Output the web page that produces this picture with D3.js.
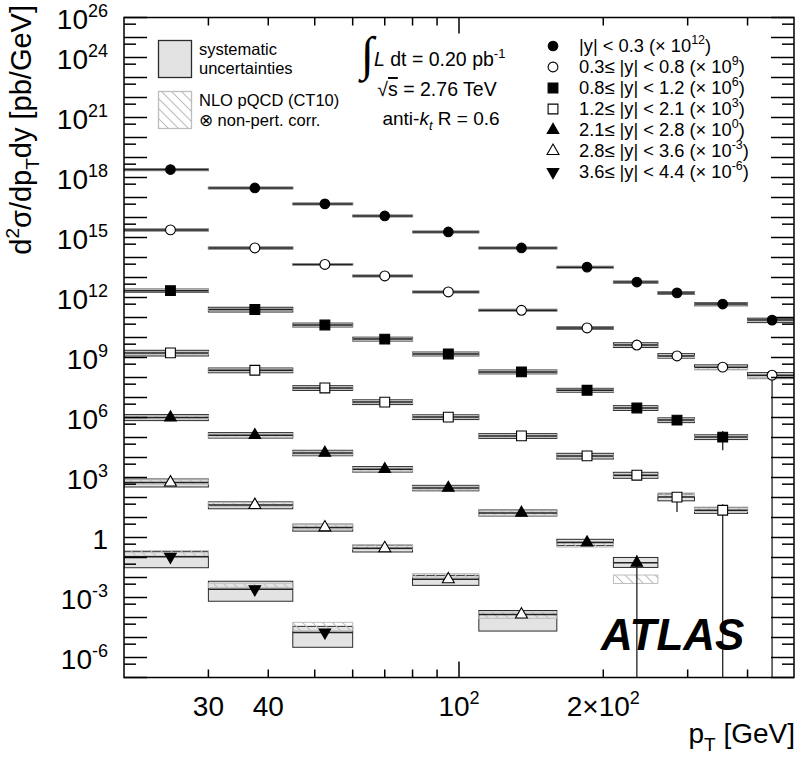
<!DOCTYPE html>
<html><head><meta charset="utf-8">
<script src="https://cdn.jsdelivr.net/npm/d3@7"></script>
<style>
body{margin:0;background:#fff}
text{font-family:"Liberation Sans",Arial,Helvetica,sans-serif;fill:#000}
</style>
</head><body>
<svg id="c" width="797" height="757"></svg>
<script>
// ---------------- DATA ----------------
const binEdges = [20, 30, 45, 60, 80, 110, 160, 210, 260, 310, 400, 500];
const rapidityLabels = ["|y| < 0.3", "0.3\u2264 |y| < 0.8", "0.8\u2264 |y| < 1.2", "1.2\u2264 |y| < 2.1",
                        "2.1\u2264 |y| < 2.8", "2.8\u2264 |y| < 3.6", "3.6\u2264 |y| < 4.4"];
const scaleExponents = ["12", "9", "6", "3", "0", "-3", "-6"];
const xTickValues = [30, 40, 100, 200];
const xTickBase = ["30", "40", "10", "2\u00d710"];
const xTickSup = ["", "", "2", "2"];
const yTickExponents = [26, 24, 21, 18, 15, 12, 9, 6, 3, 0, -3, -6];

// cross sections (already multiplied by the scale factors), pb/GeV
const xsec_y0 = [2.5e18, 3.0e17, 4.8e16, 1.2e16, 1.9e15, 3.0e14, 3.3e13, 5.9e12, 1.7e12, 4.7e11, 7.4e10];
const xsec_y1 = [2.4e15, 3.0e14, 4.5e13, 1.2e13, 1.9e12, 2.3e11, 3.0e10, 4.2e9, 1.2e9, 3.3e8, 1.3e8];
const xsec_y2 = [2.2e12, 2.5e11, 4.2e10, 8.3e9, 1.5e9, 1.9e8, 2.3e7, 3.0e6, 7.4e5, 1.05e5];
const xsec_y3 = [1.7e9, 2.3e8, 3.0e7, 5.9e6, 1.05e6, 1.2e5, 1.2e4, 1.3e3, 105, 23];
const xsec_y4 = [1.0e6, 1.3e5, 1.7e4, 2.6e3, 300, 17, 0.56, 0.054];
const xsec_y5 = [560, 42, 3.2, 0.29, 8.1e-3, 1.4e-4];
const xsec_y6 = [0.11, 2.6e-3, 1.8e-5];

// systematic uncertainties (relative, up / down)
const sysUp_y0 = [0.12, 0.1, 0.1, 0.1, 0.1, 0.1, 0.1, 0.12, 0.14, 0.18, 0.25];
const sysDn_y0 = [0.12, 0.1, 0.1, 0.1, 0.1, 0.1, 0.1, 0.12, 0.14, 0.18, 0.25];
const sysUp_y1 = [0.12, 0.12, 0.1, 0.1, 0.1, 0.12, 0.15, 0.3, 0.3, 0.3, 0.35];
const sysDn_y1 = [0.12, 0.12, 0.1, 0.1, 0.1, 0.12, 0.15, 0.25, 0.25, 0.25, 0.3];
const sysUp_y2 = [0.2, 0.3, 0.25, 0.25, 0.25, 0.25, 0.25, 0.3, 0.3, 0.3];
const sysDn_y2 = [0.18, 0.25, 0.2, 0.2, 0.2, 0.2, 0.2, 0.25, 0.25, 0.25];
const sysUp_y3 = [0.35, 0.3, 0.3, 0.3, 0.3, 0.3, 0.35, 0.4, 0.45, 0.4];
const sysDn_y3 = [0.3, 0.25, 0.25, 0.25, 0.25, 0.25, 0.3, 0.3, 0.35, 0.3];
const sysUp_y4 = [0.4, 0.35, 0.35, 0.35, 0.35, 0.4, 0.45, 0.86];
const sysDn_y4 = [0.3, 0.28, 0.28, 0.28, 0.28, 0.3, 0.3, 0.41];
const sysUp_y5 = [0.5, 0.45, 0.45, 0.45, 0.58, 0.6];
const sysDn_y5 = [0.4, 0.35, 0.35, 0.35, 0.5, 0.85];
const sysUp_y6 = [0.78, 1.5, 1.0];
const sysDn_y6 = [0.72, 0.75, 0.82];

// NLO pQCD x non-pert. corr. : ratio to data and relative band half-width
const nlo_y0 = [1.02, 1, 1, 1, 1, 1, 1, 1, 1, 1, 0.95];
const nloUnc_y0 = [0.08, 0.08, 0.08, 0.08, 0.08, 0.08, 0.08, 0.08, 0.08, 0.1, 0.1];
const nlo_y1 = [1, 1, 1, 1, 1, 1, 1, 0.95, 0.9, 0.85, 0.75];
const nloUnc_y1 = [0.1, 0.1, 0.1, 0.1, 0.1, 0.1, 0.1, 0.1, 0.12, 0.12, 0.12];
const nlo_y2 = [1, 1, 1, 1, 1, 1, 1, 1, 1, 1];
const nloUnc_y2 = [0.12, 0.12, 0.12, 0.12, 0.12, 0.12, 0.12, 0.12, 0.12, 0.12];
const nlo_y3 = [1, 1, 1, 1, 1, 1, 1, 1, 1.35, 1.1];
const nloUnc_y3 = [0.15, 0.15, 0.15, 0.15, 0.15, 0.15, 0.15, 0.15, 0.2, 0.2];
const nlo_y4 = [1.05, 1, 1, 1, 1, 1, 0.85, 0.17];
const nloUnc_y4 = [0.2, 0.2, 0.2, 0.2, 0.2, 0.25, 0.3, 0.45];
const nlo_y5 = [1.1, 1.1, 1.1, 1.2, 1.6, 1.0];
const nloUnc_y5 = [0.25, 0.25, 0.25, 0.25, 0.2, 0.35];
const nlo_y6 = [1.55, 1.6, 2.2];
const nloUnc_y6 = [0.3, 0.25, 0.45];

// statistical errors that stick out of the markers (series index, bin index, rel. up, rel. down)
const statSeries = [1, 2, 3, 3, 4];
const statBin = [10, 9, 8, 9, 7];
const statUp = [0.3, 1.0, 0.5, 1.0, 1.4];
const statDn = [1.0, 0.78, 0.82, 1.0, 1.0];

// ---------------- DRAWING ----------------
const series = [
  {v: xsec_y0, up: sysUp_y0, dn: sysDn_y0, nlo: nlo_y0, nu: nloUnc_y0},
  {v: xsec_y1, up: sysUp_y1, dn: sysDn_y1, nlo: nlo_y1, nu: nloUnc_y1},
  {v: xsec_y2, up: sysUp_y2, dn: sysDn_y2, nlo: nlo_y2, nu: nloUnc_y2},
  {v: xsec_y3, up: sysUp_y3, dn: sysDn_y3, nlo: nlo_y3, nu: nloUnc_y3},
  {v: xsec_y4, up: sysUp_y4, dn: sysDn_y4, nlo: nlo_y4, nu: nloUnc_y4},
  {v: xsec_y5, up: sysUp_y5, dn: sysDn_y5, nlo: nlo_y5, nu: nloUnc_y5},
  {v: xsec_y6, up: sysUp_y6, dn: sysDn_y6, nlo: nlo_y6, nu: nloUnc_y6}
];
const markerStyle = [
  {type: d3.symbolCircle, size: 72, fill: "#000", rot: 0},
  {type: d3.symbolCircle, size: 76, fill: "#fff", rot: 0},
  {type: d3.symbolSquare, size: 96, fill: "#000", rot: 0},
  {type: d3.symbolSquare, size: 96, fill: "#fff", rot: 0},
  {type: d3.symbolTriangle, size: 58, fill: "#000", rot: 0},
  {type: d3.symbolTriangle, size: 62, fill: "#fff", rot: 0},
  {type: d3.symbolTriangle, size: 58, fill: "#000", rot: 180}
];

const L = 124, R = 794, T = 17.5, B = 677.5;
const x = d3.scaleLog().domain([binEdges[0], binEdges[binEdges.length - 1]]).range([L, R]);
const y = d3.scaleLog().domain([1e-7, 1e26]).range([B, T]);
const svg = d3.select("#c");

const defs = svg.append("defs");
const pat = defs.append("pattern").attr("id", "hatch").attr("patternUnits", "userSpaceOnUse")
  .attr("width", 10).attr("height", 10);
pat.append("path").attr("d", "M-1,-1 L11,11 M-6,4 L6,16 M4,-6 L16,6")
  .attr("stroke", "#bdbdbd").attr("stroke-width", 1.1);
defs.append("clipPath").attr("id", "frame").append("rect")
  .attr("x", L).attr("y", T).attr("width", R - L).attr("height", B - T);

const yc = v => (v <= 0 ? B + 5 : y(v));
const plot = svg.append("g").attr("clip-path", "url(#frame)");

series.forEach((s, k) => {
  s.v.forEach((v, i) => {
    const lo = binEdges[i], hi = binEdges[i + 1];
    plot.append("rect")
      .attr("x", x(lo)).attr("width", x(hi) - x(lo))
      .attr("y", yc(v * (1 + s.up[i]))).attr("height", yc(v * (1 - s.dn[i])) - yc(v * (1 + s.up[i])))
      .attr("fill", "#e3e3e3").attr("stroke", "#2b2b2b").attr("stroke-width", 1);
  });
});
series.forEach((s, k) => {
  s.v.forEach((v, i) => {
    const lo = binEdges[i], hi = binEdges[i + 1];
    const t = v * s.nlo[i];
    plot.append("rect")
      .attr("x", x(lo)).attr("width", x(hi) - x(lo))
      .attr("y", yc(t * (1 + s.nu[i]))).attr("height", yc(t * (1 - s.nu[i])) - yc(t * (1 + s.nu[i])))
      .attr("fill", "url(#hatch)").attr("stroke", "#bdbdbd").attr("stroke-width", 1);
  });
});
statSeries.forEach((k, j) => {
  const i = statBin[j], v = series[k].v[i];
  const xc = x((binEdges[i] + binEdges[i + 1]) / 2);
  plot.append("line").attr("x1", xc).attr("x2", xc)
    .attr("y1", yc(v * (1 + statUp[j]))).attr("y2", yc(v * (1 - statDn[j])))
    .attr("stroke", "#222").attr("stroke-width", 1.3);
});
series.forEach((s, k) => {
  s.v.forEach((v, i) => {
    const lo = binEdges[i], hi = binEdges[i + 1];
    plot.append("line").attr("x1", x(lo)).attr("x2", x(hi)).attr("y1", y(v)).attr("y2", y(v))
      .attr("stroke", "#222").attr("stroke-width", 1.5);
  });
});
series.forEach((s, k) => {
  const m = markerStyle[k];
  s.v.forEach((v, i) => {
    const xc = x((binEdges[i] + binEdges[i + 1]) / 2);
    plot.append("path").attr("d", d3.symbol().type(m.type).size(m.size)())
      .attr("transform", `translate(${xc},${y(v)}) rotate(${m.rot})`)
      .attr("fill", m.fill).attr("stroke", "#000").attr("stroke-width", 1.1);
  });
});

// frame and ticks
const ax = svg.append("g").attr("stroke", "#000").attr("stroke-width", 1.5);
ax.append("rect").attr("x", L).attr("y", T).attr("width", R - L).attr("height", B - T).attr("fill", "none");
const xMinor = [30, 40, 50, 60, 70, 80, 90, 200, 300, 400];
xMinor.concat([100]).forEach(v => {
  const len = v === 100 ? 16 : 8;
  ax.append("line").attr("x1", x(v)).attr("x2", x(v)).attr("y1", B).attr("y2", B - len);
  ax.append("line").attr("x1", x(v)).attr("x2", x(v)).attr("y1", T).attr("y2", T + len);
});
for (let n = -7; n <= 26; n++) {
  const yy = y(Math.pow(10, n));
  ax.append("line").attr("x1", L).attr("x2", L + 23).attr("y1", yy).attr("y2", yy);
  ax.append("line").attr("x1", R).attr("x2", R - 23).attr("y1", yy).attr("y2", yy);
  if (n > -7) {
    const ys = y(Math.pow(10, n - 1 / 3));
    ax.append("line").attr("x1", L).attr("x2", L + 12).attr("y1", ys).attr("y2", ys);
    ax.append("line").attr("x1", R).attr("x2", R - 12).attr("y1", ys).attr("y2", ys);
  }
}

// y tick labels
yTickExponents.forEach(n => {
  const t = svg.append("text").attr("x", 108).attr("y", y(Math.pow(10, n)) + 11)
    .attr("text-anchor", "end").attr("font-size", 28);
  if (n === 0) { t.text("1"); return; }
  t.append("tspan").text("10");
  t.append("tspan").attr("dy", -12).attr("font-size", 18).text(String(n));
});
// x tick labels
xTickValues.forEach((v, i) => {
  const t = svg.append("text").attr("x", x(v)).attr("y", 716).attr("text-anchor", "middle").attr("font-size", 28);
  t.append("tspan").text(xTickBase[i]);
  if (xTickSup[i]) t.append("tspan").attr("dy", -12).attr("font-size", 18).text(xTickSup[i]);
});
// axis titles
const xt = svg.append("text").attr("x", 795).attr("y", 743).attr("text-anchor", "end").attr("font-size", 28);
xt.append("tspan").text("p");
xt.append("tspan").attr("dy", 8).attr("font-size", 19).text("T");
xt.append("tspan").attr("dy", -8).text(" [GeV]");

const yt = svg.append("text").attr("transform", "translate(31,5) rotate(-90)")
  .attr("text-anchor", "end").attr("font-size", 29);
yt.append("tspan").text("d");
yt.append("tspan").attr("dy", -12).attr("font-size", 19).text("2");
yt.append("tspan").attr("dy", 12).text("\u03c3/dp");
yt.append("tspan").attr("dy", 8).attr("font-size", 19).text("T");
yt.append("tspan").attr("dy", -8).text("dy [pb/GeV]");

// legend: left
svg.append("rect").attr("x", 158.5).attr("y", 40.5).attr("width", 33).attr("height", 37)
  .attr("fill", "#e3e3e3").attr("stroke", "#2b2b2b").attr("stroke-width", 1.3);
svg.append("rect").attr("x", 158.5).attr("y", 91.5).attr("width", 33).attr("height", 37)
  .attr("fill", "url(#hatch)").attr("stroke", "#bdbdbd").attr("stroke-width", 1.3);
[["systematic", 55], ["uncertainties", 74], ["NLO pQCD (CT10)", 106], ["\u2297 non-pert. corr.", 126]]
  .forEach(d => svg.append("text").attr("x", 199).attr("y", d[1]).attr("font-size", 16.5).text(d[0]));

// legend: middle
svg.append("text").attr("x", 361).attr("y", 70).attr("font-size", 48)
  .style("font-family", "'Liberation Serif',serif").text("\u222b");
const l1 = svg.append("text").attr("x", 374).attr("y", 66).attr("font-size", 19.5);
l1.append("tspan").attr("font-style", "italic").text("L");
l1.append("tspan").text(" dt = 0.20 pb");
l1.append("tspan").attr("dy", -8).attr("font-size", 13).text("-1");
const l2 = svg.append("text").attr("x", 437).attr("y", 96).attr("font-size", 19.5).attr("text-anchor", "middle");
l2.append("tspan").text("\u221a");
l2.append("tspan").attr("text-decoration", "overline").text("s");
l2.append("tspan").text(" = 2.76 TeV");
const l3 = svg.append("text").attr("x", 441).attr("y", 125).attr("font-size", 19).attr("text-anchor", "middle");
l3.append("tspan").text("anti-");
l3.append("tspan").attr("font-style", "italic").text("k");
l3.append("tspan").attr("dy", 5).attr("font-size", 13).attr("font-style", "italic").text("t");
l3.append("tspan").attr("dy", -5).text(" R = 0.6");

// legend: right
rapidityLabels.forEach((lab, k) => {
  const cy = 46 + 21 * k, m = markerStyle[k];
  svg.append("path").attr("d", d3.symbol().type(m.type).size(m.size)())
    .attr("transform", `translate(553,${cy}) rotate(${m.rot})`)
    .attr("fill", m.fill).attr("stroke", "#000").attr("stroke-width", 1.1);
  const t = svg.append("text").attr("x", 579).attr("y", cy + 6).attr("font-size", 18.3);
  t.append("tspan").text(lab + " (\u00d7 10");
  t.append("tspan").attr("dy", -8).attr("font-size", 12.5).text(scaleExponents[k]);
  t.append("tspan").attr("dy", 8).text(")");
});

// ATLAS label
svg.append("text").attr("x", 601).attr("y", 650).attr("font-size", 44)
  .attr("font-weight", "bold").attr("font-style", "italic").text("ATLAS");
</script>
</body></html>
